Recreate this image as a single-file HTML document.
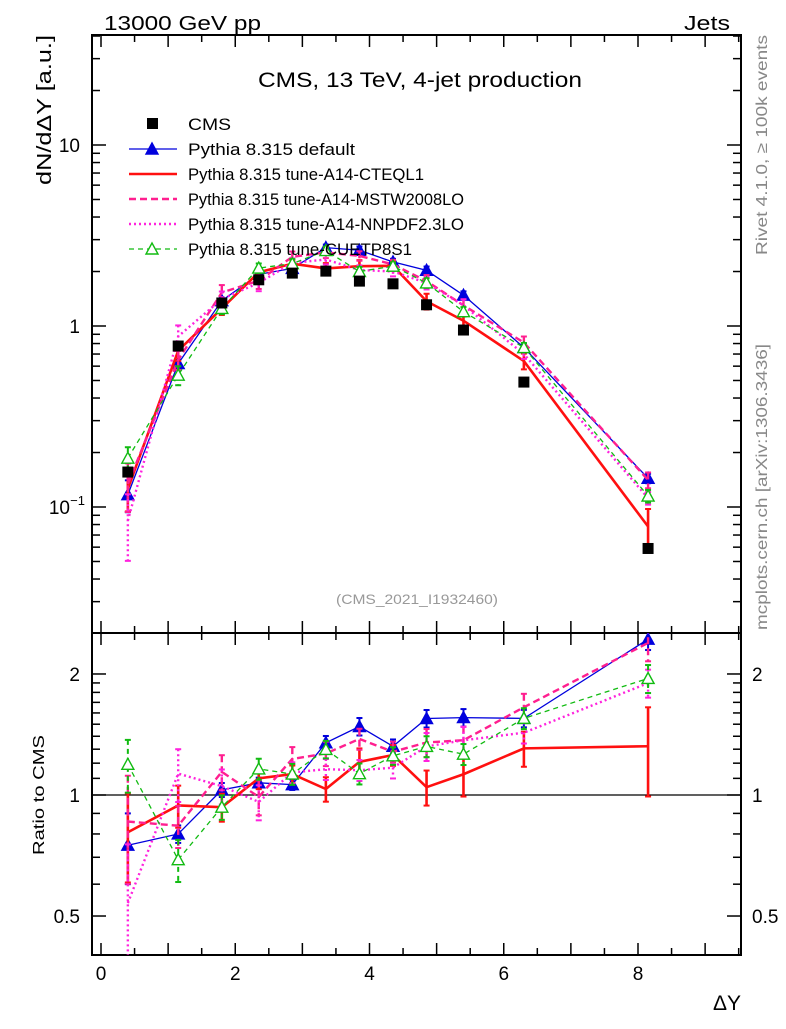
<!DOCTYPE html>
<html><head><meta charset="utf-8"><style>
body{margin:0;background:#fff}
svg text{font-family:"Liberation Sans",sans-serif}
</style></head><body>
<svg id="c" width="786" height="1024" viewBox="0 0 786 1024" xmlns="http://www.w3.org/2000/svg"></svg>
<script>
const xVals=[0.4,1.15,1.8,2.35,2.85,3.35,3.85,4.35,4.85,5.4,6.3,8.15];
const cms=[0.156,0.775,1.34,1.80,1.96,2.01,1.77,1.71,1.31,0.95,0.49,0.059];
const pyDefault=[0.117,0.62,1.38,1.93,2.08,2.71,2.62,2.26,2.03,1.48,0.76,0.144];
const pyCTEQ=[0.126,0.73,1.25,1.98,2.21,2.08,2.14,2.15,1.37,1.07,0.64,0.078];
const pyMSTW=[0.134,0.65,1.53,1.78,2.41,2.55,2.44,2.19,1.77,1.30,0.81,0.141];
const pyNNPDF=[0.084,0.876,1.41,1.73,2.23,2.33,2.04,2.00,1.73,1.30,0.70,0.112];
const pyCUETP=[0.186,0.535,1.25,2.09,2.21,2.61,2.0,2.14,1.73,1.20,0.76,0.115];
const relErrDefault=[0.2,0.05,0.04,0.03,0.03,0.04,0.05,0.04,0.05,0.05,0.05,0.06];
const relErrCTEQ=[0.25,0.12,0.08,0.06,0.05,0.07,0.08,0.06,0.1,0.12,0.1,0.25];
const relErrMSTW=[0.3,0.12,0.1,0.1,0.07,0.07,0.06,0.06,0.08,0.08,0.08,0.1];
const relErrNNPDF=[0.4,0.15,0.1,0.1,0.06,0.06,0.06,0.06,0.08,0.08,0.06,0.08];
const relErrCUETP=[0.15,0.12,0.07,0.06,0.06,0.05,0.06,0.05,0.06,0.06,0.06,0.08];
const cmsErr=[0.03,0.02,0.02,0.02,0.02,0.02,0.02,0.02,0.03,0.03,0.03,0.04];
const xTicks=[0,2,4,6,8];
const ratioTicks=[0.5,1,2];

const NS="http://www.w3.org/2000/svg";
const svg=document.getElementById('c');
const L=92,R=741,T=35,M=633,B=955;
const X=v=>101+v*67.125;
const Y=v=>326-181*Math.log10(v);
const RY=v=>{v=Math.max(v,0.3);return 795-402*Math.log10(v);};
function el(tag,attrs,parent){const e=document.createElementNS(NS,tag);for(const k in attrs)e.setAttribute(k,attrs[k]);(parent||svg).appendChild(e);return e;}
function txt(s,attrs,parent){const e=el('text',attrs,parent);e.textContent=s;return e;}
function fit(e,len){e.setAttribute('textLength',len);e.setAttribute('lengthAdjust','spacingAndGlyphs');}

const clipD=el('clipPath',{id:'cm'});el('rect',{x:L,y:T,width:R-L,height:M-T},clipD);
const clipR=el('clipPath',{id:'cr'});el('rect',{x:L,y:M,width:R-L,height:B-M},clipR);

const f1=el('rect',{x:L,y:T,width:R-L,height:M-T,fill:'none',stroke:'#000','stroke-width':2});

const f2=el('rect',{x:L,y:M,width:R-L,height:B-M,fill:'none',stroke:'#000','stroke-width':2});


for(let i=0;i<=19;i++){const v=i*0.5;const x=X(v);if(x>R)break;const len=(i%2==0)?12:7;
 [[T,1],[M,-1],[M,1],[B,-1]].forEach(([y,d])=>el('line',{x1:x,x2:x,y1:y,y2:y+d*len,stroke:'#000','stroke-width':1.5}));}
xTicks.forEach(v=>{const t=txt(String(v),{x:X(v),y:980,'font-size':19,'text-anchor':'middle'});});
for(let d=-2;d<=1;d++)for(let m=1;m<=9;m++){const v=m*Math.pow(10,d);const y=Y(v);if(y<T||y>M)continue;const len=m==1?14:8;
 el('line',{x1:L,x2:L+len,y1:y,y2:y,stroke:'#000','stroke-width':1.5});el('line',{x1:R,x2:R-len,y1:y,y2:y,stroke:'#000','stroke-width':1.5});}
let t=txt('10',{x:80,y:Y(10)+7,'font-size':19,'text-anchor':'end'});
t=txt('1',{x:80,y:Y(1)+7,'font-size':19,'text-anchor':'end'});
t=txt('10',{x:70,y:Y(0.1)+7,'font-size':19,'text-anchor':'end'});
txt('−1',{x:85,y:Y(0.1)-2,'font-size':13,'text-anchor':'end'});
for(let v=0.4;v<=2.5;v+= (v<2?0.1:0.5)){const y=RY(v);if(y<M||y>B)continue;const maj=[0.5,1,2].some(a=>Math.abs(a-v)<1e-6);const len=maj?14:8;
 el('line',{x1:L,x2:L+len,y1:y,y2:y,stroke:'#000','stroke-width':1.5});el('line',{x1:R,x2:R-len,y1:y,y2:y,stroke:'#000','stroke-width':1.5});}
ratioTicks.forEach(v=>{let a=txt(String(v),{x:80,y:RY(v)+7,'font-size':19,'text-anchor':'end'});
 a=txt(String(v),{x:752,y:RY(v)+7,'font-size':19});});
el('line',{x1:L,x2:R,y1:RY(1),y2:RY(1),stroke:'#000','stroke-width':1.2});

t=txt('13000 GeV pp',{x:104,y:30,'font-size':20});fit(t,157);
t=txt('Jets',{x:730,y:30,'font-size':20,'text-anchor':'end'});fit(t,46);
t=txt('CMS, 13 TeV, 4-jet production',{x:258,y:87,'font-size':21});fit(t,324);
t=txt('dN/dΔY [a.u.]',{x:0,y:0,'font-size':20,'text-anchor':'start',transform:'translate(51,185) rotate(-90)'});fit(t,150);
t=txt('Ratio to CMS',{x:0,y:0,'font-size':16,'text-anchor':'start',transform:'translate(44,855) rotate(-90)'});fit(t,120);
t=txt('ΔY',{x:741,y:1010,'font-size':21,'text-anchor':'end'});
t=txt('Rivet 4.1.0, ≥ 100k events',{x:0,y:0,'font-size':16,fill:'#888','text-anchor':'start',transform:'translate(767,255) rotate(-90)'});fit(t,220);
t=txt('mcplots.cern.ch [arXiv:1306.3436]',{x:0,y:0,'font-size':16,fill:'#888','text-anchor':'start',transform:'translate(767,630) rotate(-90)'});fit(t,286);
t=txt('(CMS_2021_I1932460)',{x:336,y:604,'font-size':14,fill:'#999'});fit(t,162);

const series=[
 {name:'Pythia 8.315 default',d:pyDefault,e:relErrDefault,c:'#0000dd',w:1.3,dash:'',mk:'tri',fill:true,tl:167},
 {name:'Pythia 8.315 tune-A14-CTEQL1',d:pyCTEQ,e:relErrCTEQ,c:'#ff1010',w:2.6,dash:'',mk:null,tl:236},
 {name:'Pythia 8.315 tune-A14-MSTW2008LO',d:pyMSTW,e:relErrMSTW,c:'#ff1f8f',w:2.4,dash:'7,4',mk:null,tl:276},
 {name:'Pythia 8.315 tune-A14-NNPDF2.3LO',d:pyNNPDF,e:relErrNNPDF,c:'#ff22dd',w:2.4,dash:'2,3',mk:null,tl:276},
 {name:'Pythia 8.315 tune-CUETP8S1',d:pyCUETP,e:relErrCUETP,c:'#11bb11',w:1.3,dash:'5,4',mk:'tri',fill:false,tl:224}
];
function tri(g,x,y,c,fill){el('path',{d:`M${x},${y-6}L${x+6},${y+5}L${x-6},${y+5}Z`,fill:fill?c:'#fff',stroke:c,'stroke-width':1.4},g);}

series.forEach((s,si)=>{
 [['cm',Y,v=>v,'main'],['cr',RY,(v,i)=>v/cms[i],'ratio']].forEach(([clip,yf,tr,pn])=>{
  const g=el('g',{'clip-path':`url(#${clip})`});
  
  const pts=s.d.map((v,i)=>[X(xVals[i]),yf(tr(v,i))]);
  s.d.forEach((v,i)=>{const val=tr(v,i);const x=X(xVals[i]);
   el('line',{x1:x,x2:x,y1:yf(val*(1+s.e[i])),y2:yf(val*(1-s.e[i])),stroke:s.c,'stroke-width':Math.max(2,s.w),'stroke-dasharray':s.dash},g);
   [val*(1+s.e[i]),val*(1-s.e[i])].forEach(q=>el('line',{x1:x-3,x2:x+3,y1:yf(q),y2:yf(q),stroke:s.c,'stroke-width':2},g));});
  el('polyline',{points:pts.map(p=>p.join(',')).join(' '),fill:'none',stroke:s.c,'stroke-width':s.w,'stroke-dasharray':s.dash},g);
  if(s.mk)pts.forEach(p=>tri(g,p[0],p[1],s.c,s.fill));
 });
});
const gc=el('g',{'clip-path':'url(#cm)'});

cms.forEach((v,i)=>{const x=X(xVals[i]),y=Y(v);
 el('line',{x1:x,x2:x,y1:Y(v*(1+cmsErr[i])),y2:Y(v*(1-cmsErr[i])),stroke:'#000','stroke-width':1.5},gc);
 el('rect',{x:x-5.5,y:y-5.5,width:11,height:11,fill:'#000'},gc);});

const lg=el('g',{});
const ly0=124,ldy=25;
el('rect',{x:147,y:ly0-6,width:11,height:11,fill:'#000'},lg);
let ct=txt('CMS',{x:188,y:ly0+6,'font-size':17},lg);fit(ct,43);
series.forEach((s,i)=>{const y=ly0+ldy*(i+1);
 const e=el('g',{},lg);
 el('line',{x1:129,x2:177,y1:y,y2:y,stroke:s.c,'stroke-width':s.w,'stroke-dasharray':s.dash},e);
 if(s.mk)tri(e,152,y,s.c,s.fill);
 const tt=txt(s.name,{x:188,y:y+6,'font-size':17},e);fit(tt,s.tl);});
</script>
</body></html>
